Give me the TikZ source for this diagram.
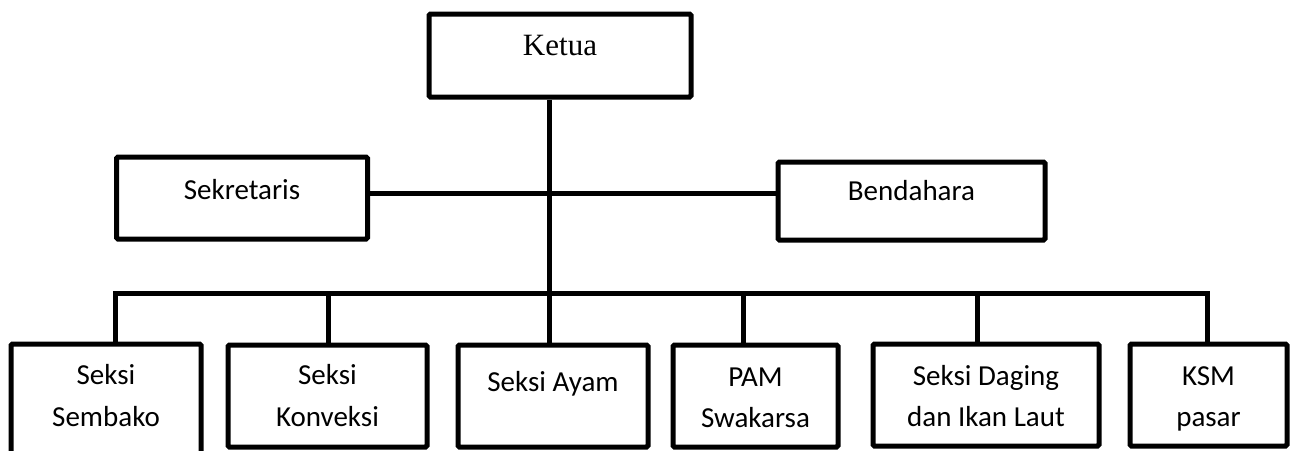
\documentclass[tikz,border=0pt]{standalone}
\usepackage{fontspec}
\setmainfont{Carlito}
\newfontfamily\serifk{Liberation Serif}
\begin{document}
\begin{tikzpicture}[x=1pt,y=-1pt,
  box/.style={draw=black, line width=5pt, rounded corners=1.5pt, fill=white, inner sep=0pt},
  conn/.style={draw=black, line width=5pt},
  lbl/.style={anchor=base, inner sep=0pt, font=\fontsize{29}{35}\selectfont},
  klbl/.style={anchor=base, inner sep=0pt, font=\serifk\fontsize{31}{37}\selectfont}]
\useasboundingbox (0,0) rectangle (1293,450);
\clip (0,0) rectangle (1293,450);
% boxes
\node[box, minimum width=262pt, minimum height=83pt] (ketua) at (560,55.5) {};
\node[box, minimum width=251pt, minimum height=82pt] (sekretaris) at (242,198) {};
\node[box, minimum width=267pt, minimum height=78pt] (bendahara) at (911.5,201) {};
\node[box, minimum width=190pt, minimum height=126pt] (sembako) at (106,407) {};
\node[box, minimum width=199pt, minimum height=102pt] (konveksi) at (327.5,396) {};
\node[box, minimum width=190pt, minimum height=102pt] (ayam) at (553,396) {};
\node[box, minimum width=165pt, minimum height=102pt] (pam) at (755.5,396) {};
\node[box, minimum width=226pt, minimum height=102pt] (daging) at (986,395) {};
\node[box, minimum width=157pt, minimum height=102pt] (ksm) at (1208.5,395) {};
% texts
\node[klbl] (tketua) at (560,55) {Ketua};
\node[lbl] (tsek) at (242,199) {Sekretaris};
\node[lbl] (tben) at (911.5,200) {Bendahara};
\node[lbl] (tsem1) at (106,384) {Seksi};
\node[lbl] (tsem2) at (106,426) {Sembako};
\node[lbl] (tkon1) at (327.5,384) {Seksi};
\node[lbl] (tkon2) at (327.5,426) {Konveksi};
\node[lbl] (tayam) at (553,391) {Seksi Ayam};
\node[lbl] (tpam1) at (755.5,386) {PAM};
\node[lbl] (tpam2) at (755.5,427) {Swakarsa};
\node[lbl] (tdag1) at (986,385) {Seksi Daging};
\node[lbl] (tdag2) at (986,426) {dan Ikan Laut};
\node[lbl] (tksm1) at (1208.5,385) {KSM};
\node[lbl] (tksm2) at (1208.5,426) {pasar};
% connector coordinates
\coordinate (spine) at (549,293);
\coordinate (mid) at (549,193);
\coordinate (s1) at (115,293);
\coordinate (s2) at (328,293);
\coordinate (s4) at (743,293);
\coordinate (s5) at (977,293);
\coordinate (s6) at (1207,293);
% connectors
\draw[conn] (spine |- ketua.south) -- (spine |- ayam.north);
\draw[conn] (mid -| sekretaris.east) -- (mid -| bendahara.west);
\draw[conn] (s1 |- sembako.north) -- (s1) -- (s6) -- (s6 |- ksm.north);
\draw[conn] (s2) -- (s2 |- konveksi.north);
\draw[conn] (s4) -- (s4 |- pam.north);
\draw[conn] (s5) -- (s5 |- daging.north);
\end{tikzpicture}
\end{document}
